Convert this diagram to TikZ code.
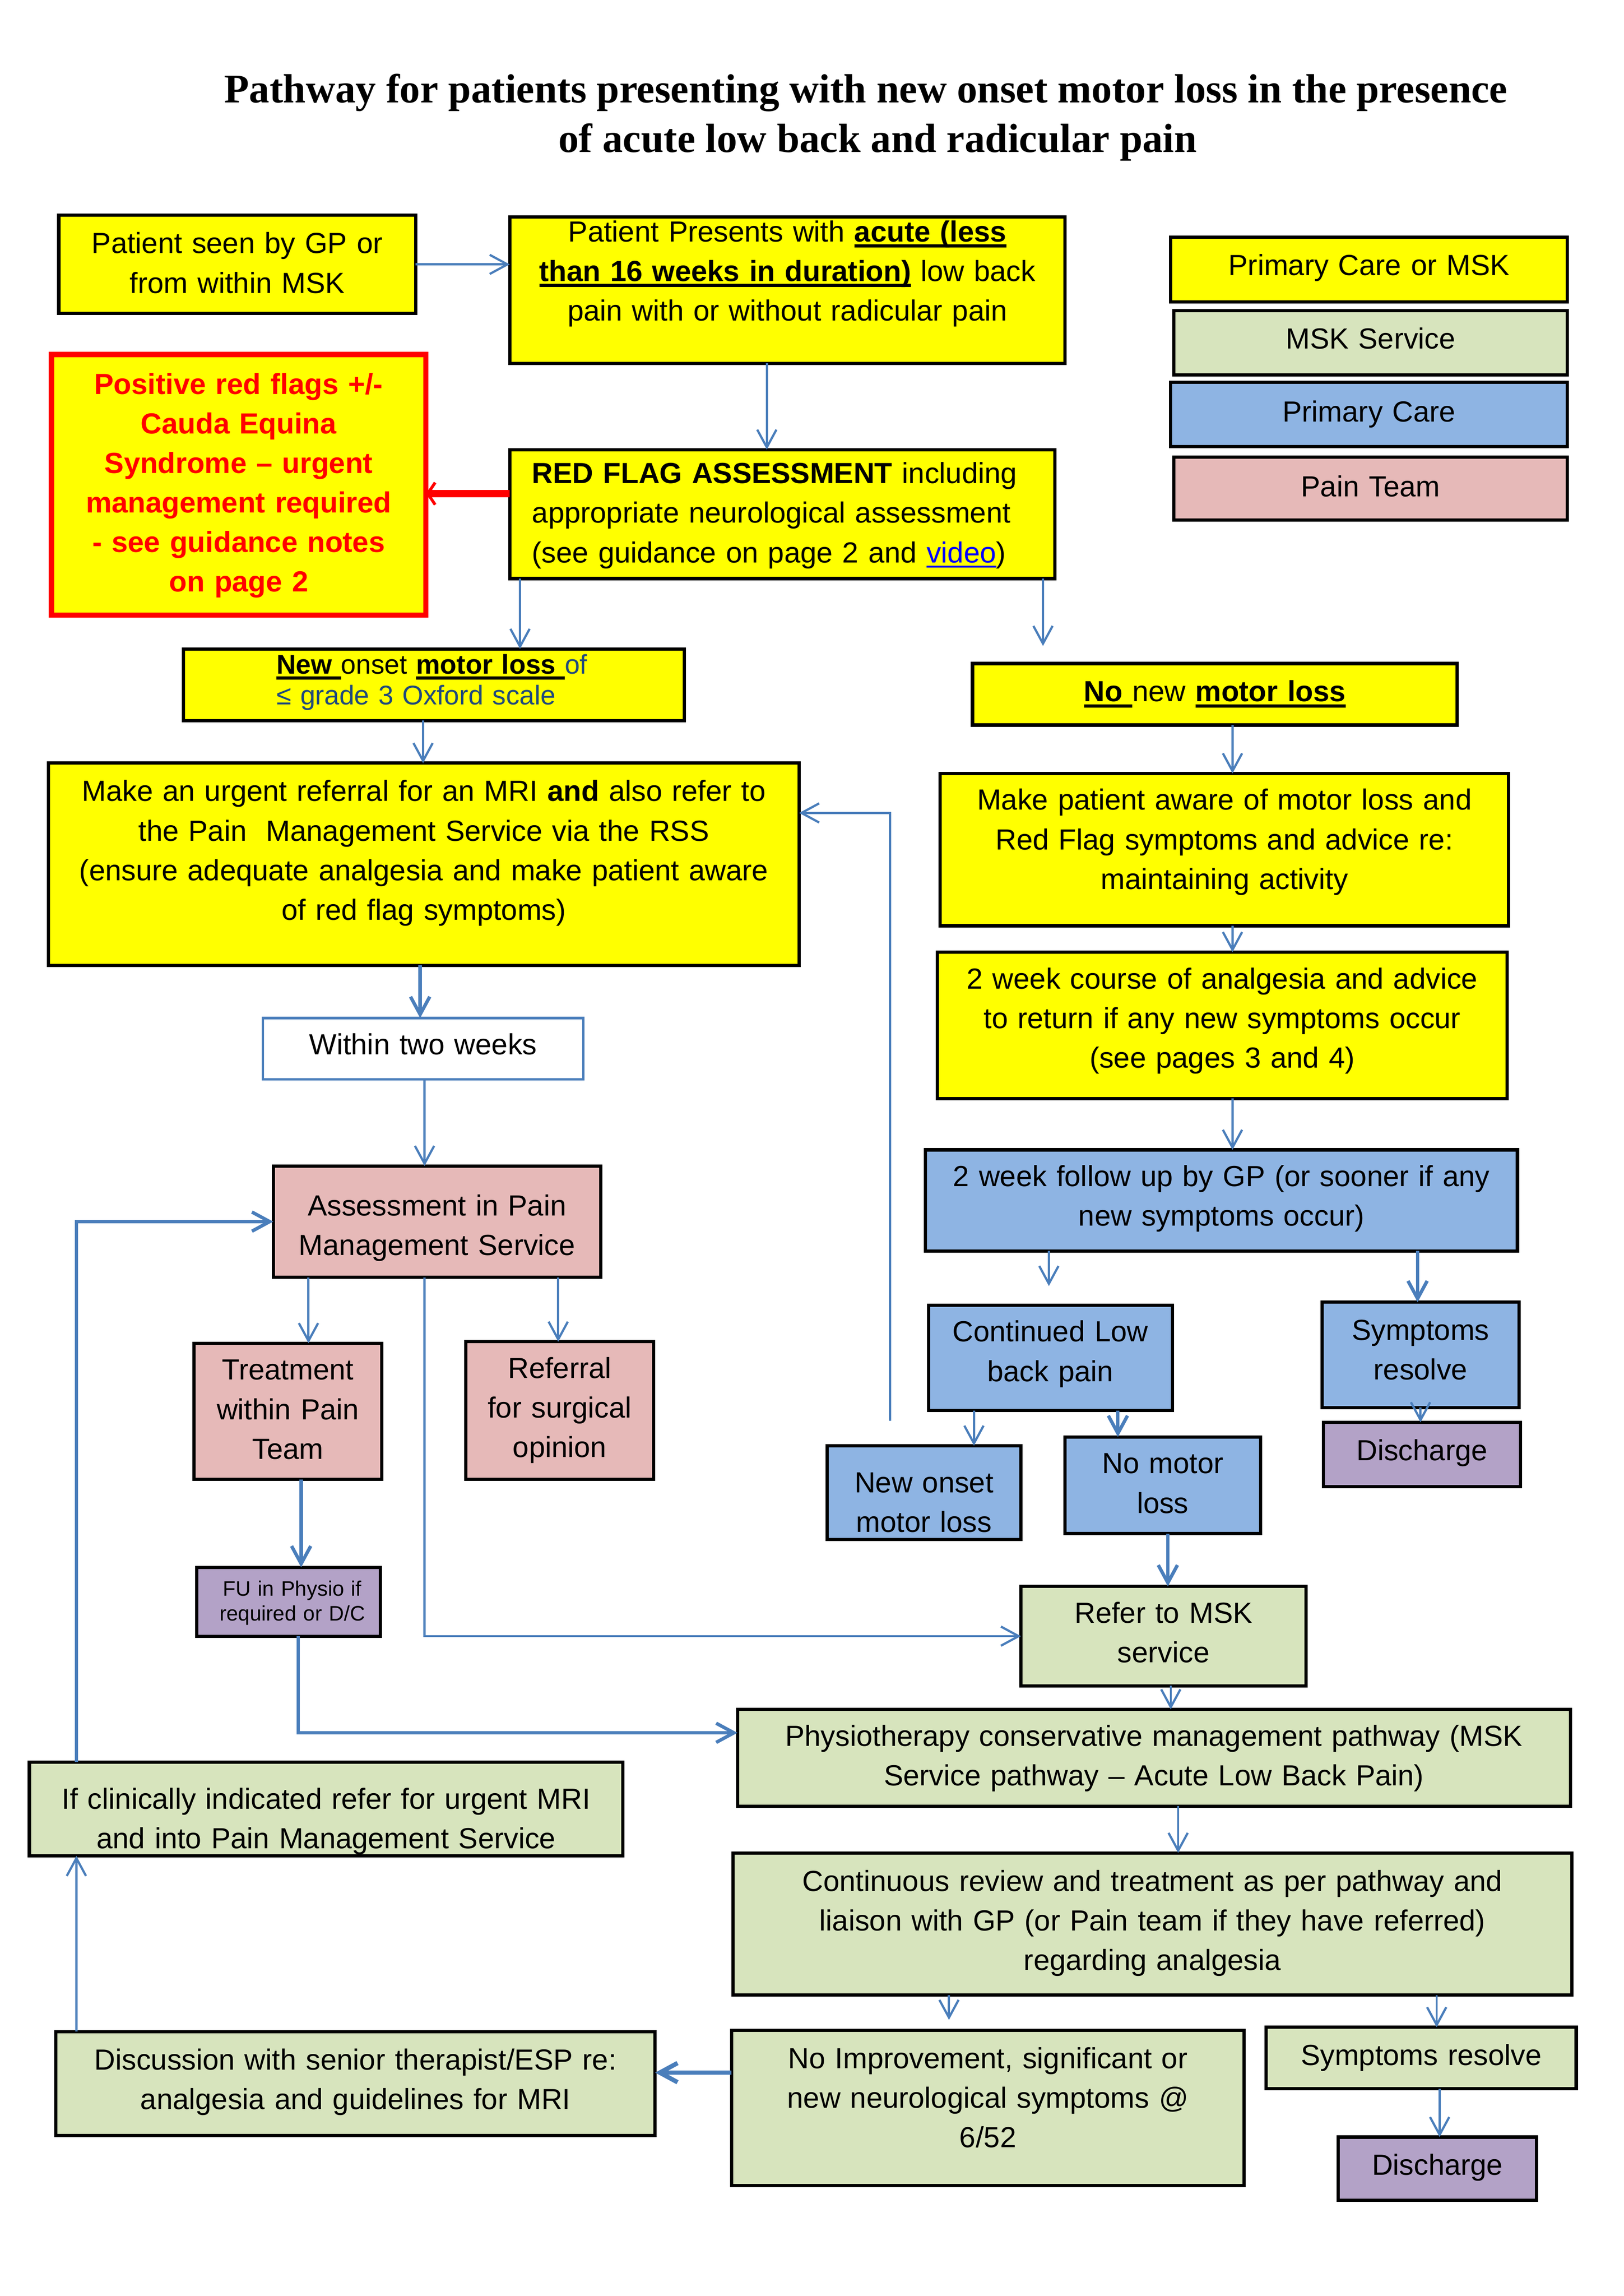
\documentclass[tikz,border=0pt]{standalone}
\usepackage{fontspec}
\setmainfont{Liberation Sans}
\newfontfamily\titlefont{Liberation Serif}
\usetikzlibrary{arrows.meta}
\definecolor{cyel}{HTML}{FFFF00}
\definecolor{cgrn}{HTML}{D7E4BD}
\definecolor{cblu}{HTML}{8EB4E3}
\definecolor{cpnk}{HTML}{E6B9B8}
\definecolor{cpur}{HTML}{B3A2C7}
\definecolor{linecol}{HTML}{4A7EBB}
\definecolor{navy}{HTML}{1F497D}
\definecolor{linkb}{HTML}{0000FF}
\definecolor{cred}{HTML}{FF0000}
\newcommand\ulx[1]{\leavevmode\setbox0=\hbox{#1}\rlap{\rule[-4pt]{\wd0}{2.2pt}}\box0\relax}
\newcommand\ulthin[1]{\leavevmode\setbox0=\hbox{#1}\rlap{\rule[-3.5pt]{\wd0}{1.2pt}}\box0\relax}
\newcommand\bx[6]{\node[#6, anchor=north west, minimum width={0.995*(#4-#2)*1pt}, minimum height={0.992*(#5-#3)*1pt}] (#1) at (#2,#3) {};}
\newcommand\tx[5]{\node[txt, text width=#4pt] (#1) at (#2,#3) {#5};}
\tikzset{
  box/.style={draw=black, line width=2.2pt, rectangle, outer sep=0pt, inner sep=0pt},
  ybox/.style={box, fill=cyel},
  gbox/.style={box, fill=cgrn},
  bbox/.style={box, fill=cblu},
  pbox/.style={box, fill=cpnk},
  purbox/.style={box, fill=cpur},
  txt/.style={anchor=base, align=center, inner sep=0pt, font=\fontsize{19.7}{26.8}\selectfont},
  conn/.style={draw=linecol, line width=1.5pt, -{Straight Barb[length=12pt,width=13pt]}},
  connthick/.style={conn, line width=2.3pt},
}
\begin{document}
\begin{tikzpicture}[x=0.995pt, y=-0.992pt]
\useasboundingbox (0,0) rectangle (1105.5,1567.5);
% title
\node[anchor=base, inner sep=0pt, font=\titlefont\bfseries\fontsize{27.6}{32}\selectfont] (title1) at (589.5,70) {Pathway for patients presenting with new onset motor loss in the presence};
\node[anchor=base, inner sep=0pt, font=\titlefont\bfseries\fontsize{27.6}{32}\selectfont] (title2) at (597.5,104) {of acute low back and radicular pain};
% boxes
\bx{b1}{40}{147}{283}{214}{ybox}
\bx{b2}{347}{148}{725}{248}{ybox}
\bx{lg1}{797}{162}{1067}{206}{ybox}
\bx{lg2}{799}{212}{1067}{256}{gbox}
\bx{lg3}{797}{261}{1067}{305}{bbox}
\bx{lg4}{799}{312}{1067}{355}{pbox}
\bx{redbox}{35}{242}{290}{420}{ybox, draw=cred, line width=3.5pt}
\bx{rfa}{347}{307}{718}{395}{ybox}
\bx{nol}{125}{443}{466}{492}{ybox}
\bx{nnml}{662}{453}{992}{495}{ybox}
\bx{urg}{33}{521}{544}{659}{ybox}
\bx{aware}{640}{528}{1027}{632}{ybox}
\bx{within}{179}{695}{397}{737}{box, draw=linecol, fill=white, line width=1.6pt}
\bx{course}{638}{650}{1026}{750}{ybox}
\bx{assess}{186}{796}{409}{872}{pbox}
\bx{fu}{630}{785}{1033}{854}{bbox}
\bx{treat}{132}{917}{260}{1010}{pbox}
\bx{refsurg}{317}{916}{445}{1010}{pbox}
\bx{cont}{632}{891}{798}{963}{bbox}
\bx{symres}{900}{889}{1034}{961}{bbox}
\bx{newml}{563}{987}{695}{1051}{bbox}
\bx{nml}{725}{981}{858}{1047}{bbox}
\bx{dis1}{901}{971}{1035}{1015}{purbox}
\bx{fup}{134}{1070}{259}{1117}{purbox}
\bx{msk}{695}{1083}{889}{1151}{gbox}
\bx{physio}{502}{1167}{1069}{1233}{gbox}
\bx{ifclin}{20}{1203}{424}{1267}{gbox}
\bx{review}{499}{1265}{1070}{1362}{gbox}
\bx{disc}{38}{1387}{446}{1458}{gbox}
\bx{noimp}{498}{1386}{847}{1492}{gbox}
\bx{symres2}{862}{1384}{1073}{1426}{gbox}
\bx{dis2}{911}{1459}{1046}{1502}{purbox}
% texts
\tx{tb1}{161.5}{173}{235}{Patient seen by GP or\\from within MSK}
\tx{tb2}{536}{165}{372}{Patient Presents with \ulx{\textbf{acute (less}}\\\ulx{\textbf{than 16 weeks in duration)}} low back\\pain with or without radicular pain}
\tx{tlg1}{932}{188}{265}{Primary Care or MSK}
\tx{tlg2}{933}{238}{265}{MSK Service}
\tx{tlg3}{932}{288}{265}{Primary Care}
\tx{tlg4}{933}{339}{265}{Pain Team}
\tx{tred}{162.5}{269}{250}{\color{cred}\bfseries Positive red flags +/-\\Cauda Equina\\Syndrome – urgent\\management required\\- see guidance notes\\on page 2}
\node[txt, anchor=base west, align=left, text width=345pt] (trfa) at (362,330) {\makebox[337pt][s]{\textbf{RED FLAG ASSESSMENT} including}\\\makebox[337pt][s]{appropriate neurological assessment}\\(see guidance on page 2 and \textcolor{linkb}{\ulthin{video}})};
\node[txt, anchor=base west, align=left, text width=270pt, font=\fontsize{18.3}{20.8}\selectfont] (tnol) at (188,460) {\ulx{\textbf{New }}onset \ulx{\textbf{motor loss }}\textcolor{navy}{of}\\\textcolor{navy}{≤ grade 3 Oxford scale}};
\tx{tnnml}{827}{479}{320}{\ulx{\textbf{No }}new \ulx{\textbf{motor loss}}}
\tx{turg}{288.5}{547}{505}{Make an urgent referral for an MRI \textbf{and} also refer to\\the Pain\ \ Management Service via the RSS\\(ensure adequate analgesia and make patient aware\\of red flag symptoms)}
\tx{taware}{833.5}{553}{380}{Make patient aware of motor loss and\\Red Flag symptoms and advice re:\\maintaining activity}
\tx{twithin}{288}{720}{210}{Within two weeks}
\tx{tcourse}{832}{675}{380}{2 week course of analgesia and advice\\to return if any new symptoms occur\\(see pages 3 and 4)}
\tx{tassess}{297.5}{830}{220}{Assessment in Pain\\Management Service}
\tx{tfu}{831.5}{810}{400}{2 week follow up by GP (or sooner if any\\new symptoms occur)}
\tx{ttreat}{196}{942}{125}{Treatment\\within Pain\\Team}
\tx{trefsurg}{381}{941}{125}{Referral\\for surgical\\opinion}
\tx{tcont}{715}{916}{165}{Continued Low\\back pain}
\tx{tsymres}{967}{915}{130}{Symptoms\\resolve}
\tx{tnewml}{629}{1019}{130}{New onset\\motor loss}
\tx{tnml}{791.5}{1006}{130}{No motor\\loss}
\tx{tdis1}{968}{997}{130}{Discharge}
\node[txt, text width=125pt, font=\fontsize{14.2}{16.9}\selectfont] (tfup) at (199,1089.5) {FU in Physio if\\required or D/C};
\tx{tmsk}{792}{1108}{190}{Refer to MSK\\service}
\tx{tphysio}{785.5}{1192}{560}{Physiotherapy conservative management pathway (MSK\\Service pathway – Acute Low Back Pain)}
\tx{tifclin}{222}{1235}{400}{If clinically indicated refer for urgent MRI\\and into Pain Management Service}
\tx{treview}{784.5}{1291}{565}{Continuous review and treatment as per pathway and\\liaison with GP (or Pain team if they have referred)\\regarding analgesia}
\tx{tdisc}{242}{1413}{405}{Discussion with senior therapist/ESP re:\\analgesia and guidelines for MRI}
\tx{tnoimp}{672.5}{1412}{345}{No Improvement, significant or\\new neurological symptoms @\\6/52}
\tx{tsymres2}{967.5}{1410}{210}{Symptoms resolve}
\tx{tdis2}{978.5}{1485}{130}{Discharge}
% free ends
\coordinate (endE) at (710,441);
\coordinate (endL) at (714,878);
\coordinate (startQ) at (606,970);
\coordinate (endZ) at (646,1379);
% connectors
\draw[conn] (b1.east) -- (b1.east -| b2.west);
\draw[conn] (b2.south -| 522,0) -- (rfa.north -| 522,0);
\draw[cred, line width=5pt, -{Straight Barb[length=5pt,width=15pt,line width=2pt]}] (rfa.west |- 0,337) -- (redbox.east |- 0,337);
\draw[conn] (rfa.south -| 354,0) -- (nol.north -| 354,0);
\draw[conn] (rfa.south -| 710,0) -- (endE);
\draw[conn] (nol.south -| 288,0) -- (urg.north -| 288,0);
\draw[conn] (nnml.south -| 839,0) -- (aware.north -| 839,0);
\draw[connthick] (urg.south -| 286,0) -- (within.north -| 286,0);
\draw[conn] (within.south -| 289,0) -- (assess.north -| 289,0);
\draw[conn] (aware.south -| 839,0) -- (course.north -| 839,0);
\draw[conn] (course.south -| 839,0) -- (fu.north -| 839,0);
\draw[conn] (fu.south -| 714,0) -- (endL);
\draw[connthick] (fu.south -| 965,0) -- (symres.north -| 965,0);
\draw[conn] (cont.south -| 663,0) -- (newml.north -| 663,0);
\draw[connthick] (cont.south -| 761,0) -- (nml.north -| 761,0);
\draw[conn] (symres.south -| 967,0) -- (dis1.north -| 967,0);
\draw[conn] (startQ) |- (urg.east |- 0,555);
\draw[conn] (assess.south -| 210,0) -- (treat.north -| 210,0);
\draw[conn] (assess.south -| 380,0) -- (refsurg.north -| 380,0);
\draw[conn] (assess.south -| 289,0) |- (msk.west);
\draw[connthick] (treat.south -| 205,0) -- (fup.north -| 205,0);
\draw[connthick] (fup.south -| 203,0) |- (physio.west |- 0,1183);
\draw[connthick] (nml.south -| 795,0) -- (msk.north -| 795,0);
\draw[conn] (msk.south -| 797,0) -- (physio.north -| 797,0);
\draw[conn] (physio.south -| 802,0) -- (review.north -| 802,0);
\draw[conn] (review.south -| 646,0) -- (endZ);
\draw[conn] (review.south -| 978,0) -- (symres2.north -| 978,0);
\draw[conn] (symres2.south -| 980,0) -- (dis2.north -| 980,0);
\draw[connthick, line width=3pt] (noimp.west |- 0,1415) -- (disc.east |- 0,1415);
\draw[conn] (disc.north -| 52,0) -- (ifclin.south -| 52,0);
\draw[connthick] (ifclin.north -| 52,0) |- (assess.west);
\end{tikzpicture}
\end{document}
